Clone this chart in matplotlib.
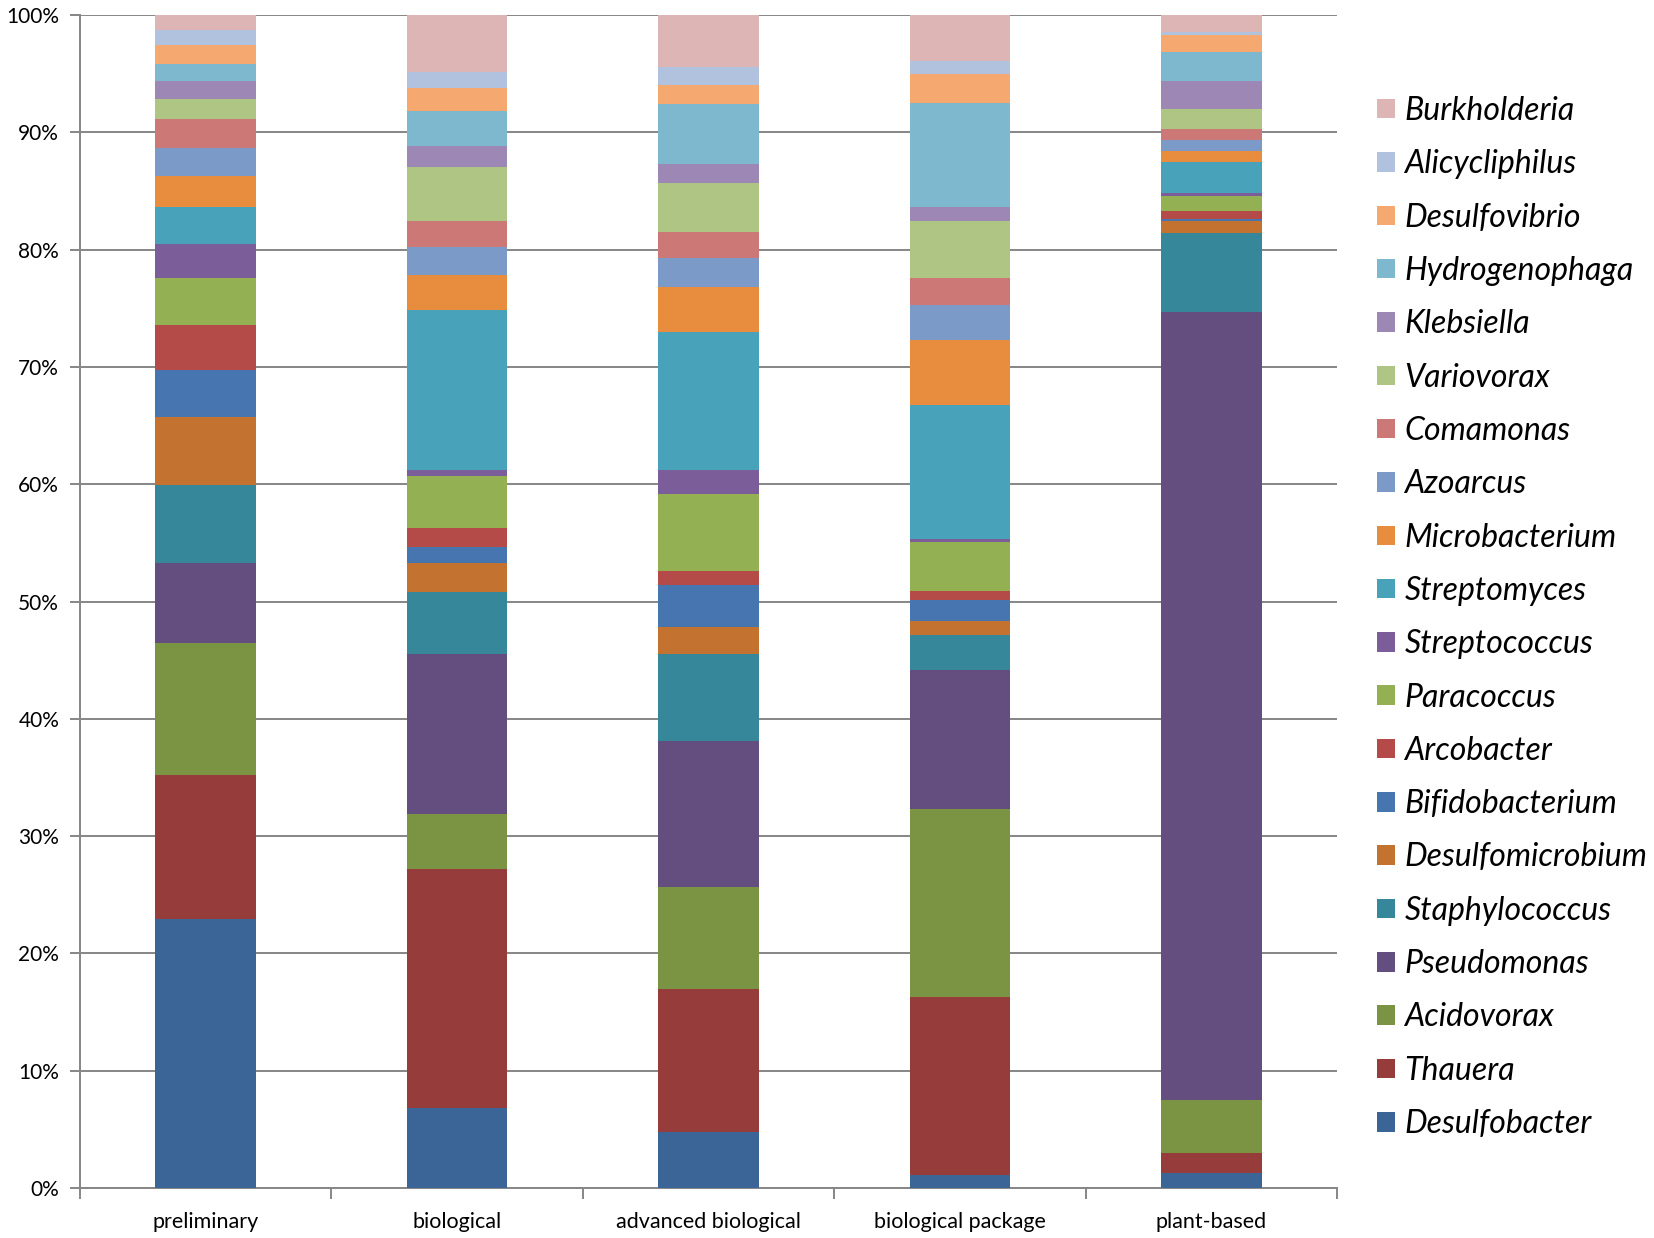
import numpy as np
import matplotlib
matplotlib.use("Agg")
import matplotlib.pyplot as plt
from matplotlib.font_manager import FontProperties

categories = ["preliminary", "biological", "advanced biological", "biological package", "plant-based"]

# series listed bottom -> top of stack
genera = ["Desulfobacter", "Thauera", "Acidovorax", "Pseudomonas", "Staphylococcus",
          "Desulfomicrobium", "Bifidobacterium", "Arcobacter", "Paracoccus", "Streptococcus",
          "Streptomyces", "Microbacterium", "Azoarcus", "Comamonas", "Variovorax",
          "Klebsiella", "Hydrogenophaga", "Desulfovibrio", "Alicycliphilus", "Burkholderia"]

# values in %: [preliminary, biological, advanced biological, biological package, plant-based]
Desulfobacter    = [22.90,  6.86,  4.80,  1.10,  1.24]
Thauera          = [12.30, 20.34, 12.20, 15.20,  1.78]
Acidovorax       = [11.26,  4.70,  8.70, 16.00,  4.51]
Pseudomonas      = [ 6.84, 13.60, 12.40, 11.84, 67.11]
Staphylococcus   = [ 6.60,  5.30,  7.40,  3.03,  6.76]
Desulfomicrobium = [ 5.84,  2.50,  2.30,  1.20,  1.08]
Bifidobacterium  = [ 3.96,  1.36,  3.63,  1.77,  0.15]
Arcobacter       = [ 3.90,  1.64,  1.14,  0.76,  0.70]
Paracoccus       = [ 3.95,  4.36,  6.60,  4.19,  1.27]
Streptococcus    = [ 2.95,  0.57,  2.06,  0.28,  0.20]
Streptomyces     = [ 3.10, 13.61, 11.77, 11.37,  2.66]
Microbacterium   = [ 2.70,  3.02,  3.80,  5.54,  0.94]
Azoarcus         = [ 2.40,  2.34,  2.50,  2.99,  0.97]
Comamonas        = [ 2.40,  2.20,  2.24,  2.33,  0.89]
Variovorax       = [ 1.75,  4.64,  4.16,  4.80,  1.71]
Klebsiella       = [ 1.55,  1.79,  1.60,  1.20,  2.39]
Hydrogenophaga   = [ 1.40,  2.97,  5.10,  8.94,  2.51]
Desulfovibrio    = [ 1.60,  2.00,  1.65,  2.42,  1.43]
Alicycliphilus   = [ 1.30,  1.36,  1.48,  1.14,  0.28]
Burkholderia     = [ 1.30,  4.84,  4.47,  3.90,  1.42]

series = [Desulfobacter, Thauera, Acidovorax, Pseudomonas, Staphylococcus,
          Desulfomicrobium, Bifidobacterium, Arcobacter, Paracoccus, Streptococcus,
          Streptomyces, Microbacterium, Azoarcus, Comamonas, Variovorax,
          Klebsiella, Hydrogenophaga, Desulfovibrio, Alicycliphilus, Burkholderia]

colors = ["#3B6497", "#963D3B", "#7A9443", "#644E80", "#37879B",
          "#C4722F", "#4675B0", "#B44B48", "#93B052", "#7A5D99",
          "#47A2BA", "#E88C3D", "#7B9AC8", "#CB7876", "#AEC583",
          "#9C87B5", "#7DB8CE", "#F5A86F", "#B1C2DE", "#DDB5B5"]

ytick_vals = list(range(0, 101, 10))
ytick_labels = [f"{v}%" for v in ytick_vals]

fig = plt.figure(figsize=(16.54, 12.38), dpi=100)
ax = fig.add_axes([80/1654, 50/1238, 1257/1654, 1173/1238])

x = np.arange(len(categories))
bottom = np.zeros(len(categories))
handles = []
for name, vals, col in zip(genera, series, colors):
    vals = np.array(vals, dtype=float)
    b = ax.bar(x, vals, width=0.4, bottom=bottom, color=col, linewidth=0, label=name, zorder=3)
    handles.append(b)
    bottom += vals

gray = "#868686"
ax.set_xlim(-0.5, len(categories) - 0.5)
ax.set_ylim(0, 100)
ax.set_yticks(ytick_vals)
ax.set_yticklabels(ytick_labels)
ax.yaxis.grid(True, color=gray, linewidth=1.4, zorder=0)
ax.set_axisbelow(True)
for s in ["top", "right"]:
    ax.spines[s].set_visible(False)
for s in ["left", "bottom"]:
    ax.spines[s].set_color(gray)
    ax.spines[s].set_linewidth(1.4)

tick_font = "Lato"
ax.set_xticks(x)
ax.set_xticklabels(categories, fontname=tick_font, fontsize=15.5)
ax.set_xticks(np.arange(-0.5, len(categories), 1.0), minor=True)
ax.tick_params(axis="x", which="major", length=0, pad=17)
ax.tick_params(axis="x", which="minor", length=8, width=1.4, color=gray, direction="out")
ax.tick_params(axis="y", which="major", length=7, width=1.4, color=gray, direction="out", pad=8)
for lab in ax.get_yticklabels():
    lab.set_fontname(tick_font)
    lab.set_fontsize(15)

leg_font = FontProperties(family="Lato", style="italic", size=23)
fig.legend(handles[::-1], genera[::-1], loc="upper left",
           bbox_to_anchor=(1377/1654, 1 - 96/1238), frameon=False, prop=leg_font,
           handlelength=0.56, handleheight=0.56, handletextpad=0.3,
           labelspacing=0.73, borderaxespad=0, borderpad=0)

fig.savefig("out.png", dpi=100, facecolor="white")
